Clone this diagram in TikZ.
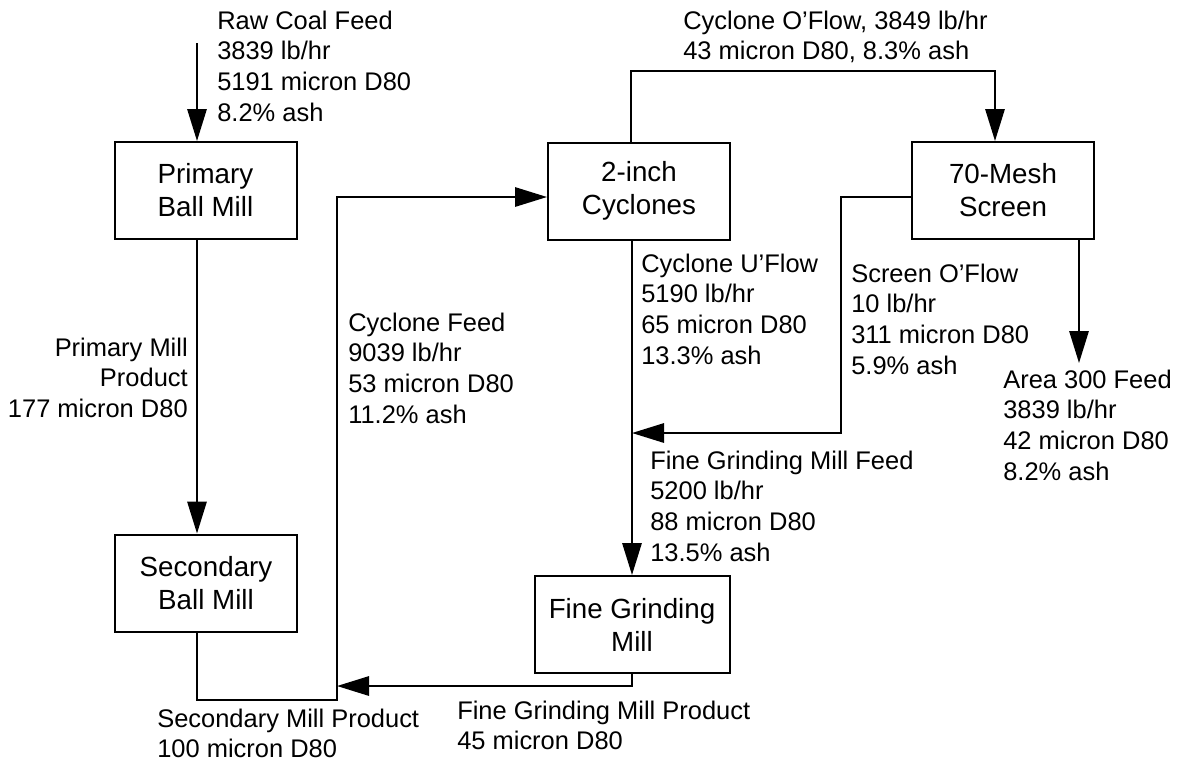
\documentclass[tikz,border=0pt]{standalone}
\usepackage{fontspec}
\setmainfont{Liberation Sans}
\usetikzlibrary{arrows.meta,positioning}

\tikzset{
  mill/.style={draw, line width=1.5pt, minimum width=136.5pt, minimum height=72.75pt,
    align=center, font=\fontsize{20.8}{24.75}\selectfont},
  flow/.style={inner sep=0pt, align=left, anchor=north west,
    font=\fontsize{19.1}{23}\selectfont},
  pipe/.style={line width=1.5pt},
  feed/.style={pipe, -{Triangle[length=24pt,width=14.5pt]}}
}

\begin{document}
\begin{tikzpicture}[x=0.75pt,y=-0.75pt]
    \useasboundingbox (0,0) rectangle (1180,765);
    % units
    \node[mill] (pbm) at (205.5,190.5) {Primary\\Ball Mill};
    \node[mill] (sbm) at (206,583) {Secondary\\Ball Mill};
    \node[mill] (cyc) at (639,191) {2-inch\\Cyclones};
    \node[mill] (mesh) at (1003,190.5) {70-Mesh\\Screen};
    \node[mill,minimum width=146.25pt] (fgm) at (632,624.5) {Fine Grinding\\Mill};
    % bends of the lines
    \coordinate (rawin) at (197,43);
    \coordinate (row) at (0,197);
    \coordinate (mix) at (337,700);
    \coordinate (fgout) at (632,686);
    \coordinate (ovf) at (995,71);
    \coordinate (sov) at (841,433);
    \coordinate (a300) at (1079,363);
    % streams
    \draw[feed] (rawin) -- (rawin |- pbm.north);
    \draw[feed] (pbm.south -| rawin) -- (sbm.north -| rawin);
    \draw[feed] (sbm.south -| rawin) |- (mix) |- (cyc.west |- row);
    \draw[feed] (fgm.south) -- (fgout) -- (fgout -| mix);
    \draw[feed] (cyc.north -| 631,0) |- (ovf) -- (ovf |- mesh.north);
    \draw[feed] (cyc.south -| fgm.north) -- (fgm.north);
    \draw[feed] (mesh.west |- row) -| (sov) -- (sov -| fgm.north);
    \draw[feed] (mesh.south -| a300) -- (a300);
    % labels
    \node[flow] (l1) at (217,10.5) {Raw Coal Feed\\3839 lb/hr\\5191 micron D80\\8.2\% ash};
    \node[flow,anchor=north east,align=right] (l2) at (188,337.5) {Primary Mill\\Product\\177 micron D80};
    \node[flow] (l3) at (348,312.5) {Cyclone Feed\\9039 lb/hr\\53 micron D80\\11.2\% ash};
    \node[flow] (l4) at (683,10.5) {Cyclone O’Flow, 3849 lb/hr\\43 micron D80, 8.3\% ash};
    \node[flow] (l5) at (641,253.5) {Cyclone U’Flow\\5190 lb/hr\\65 micron D80\\13.3\% ash};
    \node[flow] (l6) at (851,263.5) {Screen O’Flow\\10 lb/hr\\311 micron D80\\5.9\% ash};
    \node[flow] (l7) at (650,450.5) {Fine Grinding Mill Feed\\5200 lb/hr\\88 micron D80\\13.5\% ash};
    \node[flow] (l8) at (1003,369.5) {Area 300 Feed\\3839 lb/hr\\42 micron D80\\8.2\% ash};
    \node[flow] (l9) at (157,708.5) {Secondary Mill Product\\100 micron D80};
    \node[flow] (l10) at (457,700.5) {Fine Grinding Mill Product\\45 micron D80};
\end{tikzpicture}
\end{document}
